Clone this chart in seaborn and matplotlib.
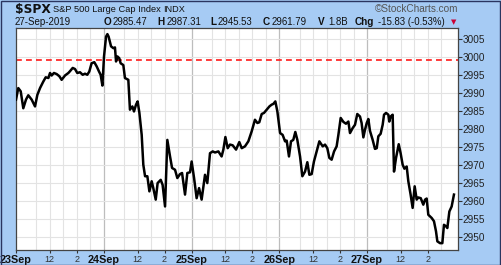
import matplotlib
matplotlib.use("Agg")
import matplotlib.pyplot as plt
import seaborn as sns
import pandas as pd
from matplotlib.patches import Rectangle

# ---- data: trading hours since 23-Sep 09:30 (6.5 h per session) and close ----
hours = [0.00, 0.17, 0.35, 0.54, 0.74, 0.91, 1.16, 1.41, 1.58, 1.78, 2.02, 2.20, 2.40, 2.52, 2.64,
         2.81, 3.01, 3.21, 3.38, 3.63, 3.88, 4.00, 4.20, 4.37, 4.54, 4.74, 4.94, 5.11, 5.28, 5.43,
         5.60, 5.80, 5.98, 6.15, 6.27, 6.40, 6.52, 6.67, 6.77, 6.86, 7.04, 7.21, 7.33, 7.41, 7.51,
         7.65, 7.75, 7.95, 8.07, 8.32, 8.44, 8.62, 8.74, 8.89, 9.01, 9.14, 9.31, 9.43, 9.56, 9.73,
         9.88, 10.05, 10.17, 10.35, 10.49, 10.72, 10.86, 11.04, 11.21, 11.41, 11.56, 11.78, 11.95,
         12.15, 12.30, 12.52, 12.69, 12.89, 13.01, 13.19, 13.38, 13.56, 13.75, 14.00, 14.17, 14.37,
         14.57, 14.74, 14.99, 15.23, 15.36, 15.51, 15.68, 15.85, 16.05, 16.30, 16.54, 16.72, 16.96,
         17.21, 17.46, 17.70, 17.88, 18.02, 18.20, 18.37, 18.57, 18.77, 18.94, 19.06, 19.21, 19.36,
         19.56, 19.75, 19.93, 20.05, 20.22, 20.37, 20.54, 20.69, 20.84, 21.04, 21.21, 21.41, 21.58,
         21.73, 21.90, 22.07, 22.27, 22.47, 22.72, 22.89, 23.06, 23.21, 23.38, 23.56, 23.75, 23.88,
         24.05, 24.25, 24.44, 24.62, 24.74, 24.94, 25.11, 25.28, 25.48, 25.60, 25.73, 25.85, 25.98,
         26.10, 26.22, 26.42, 26.59, 26.72, 26.84, 27.01, 27.16, 27.26, 27.41, 27.58, 27.65, 27.75,
         27.90, 28.00, 28.15, 28.35, 28.49, 28.64, 28.77, 28.94, 29.06, 29.23, 29.38, 29.53, 29.68,
         29.80, 29.98, 30.17, 30.30, 30.42, 30.54, 30.79, 30.96, 31.11, 31.21, 31.41, 31.58, 31.70,
         31.85, 31.95, 32.10, 32.27, 32.44]
close = [2988.1, 2991.3, 2990.4, 2985.7, 2988.1, 2989.3, 2988.1, 2986.2, 2989.4, 2991.3, 2993.1, 2994.3, 2994.1, 2995.5, 2994.8,
         2995.5, 2995.2, 2994.6, 2993.6, 2994.8, 2995.5, 2996.0, 2996.9, 2996.6, 2995.5, 2995.7, 2995.0, 2995.3, 2995.0, 2995.9,
         2998.2, 2998.5, 2997.3, 2995.9, 2995.0, 2992.0, 3000.1, 3005.6, 3006.3, 3005.6, 3002.9, 3002.4, 3002.6, 2998.7, 3000.1,
         2999.6, 2998.2, 2997.7, 2994.1, 2993.6, 2985.3, 2986.2, 2984.8, 2986.7, 2987.6, 2984.4, 2978.3, 2970.0, 2966.8, 2966.8,
         2962.6, 2965.4, 2963.5, 2960.3, 2964.9, 2965.8, 2964.4, 2958.4, 2976.9, 2972.3, 2969.1, 2968.6, 2966.3,
         2967.4, 2967.7, 2961.7, 2967.7, 2967.9, 2970.9, 2966.3, 2960.7, 2963.5, 2960.3, 2967.2, 2964.9, 2973.2,
         2973.7, 2973.4, 2973.7, 2972.3, 2974.2, 2977.7, 2974.6, 2975.6, 2975.4, 2974.2, 2976.3, 2974.6, 2975.1,
         2976.5, 2979.3, 2982.5, 2981.6, 2981.8, 2984.1, 2984.4, 2985.3, 2986.2, 2986.7, 2986.9, 2987.6, 2984.8,
         2978.8, 2978.3, 2976.5, 2976.7, 2972.3, 2976.5, 2976.9, 2979.1, 2976.9, 2972.3, 2966.8, 2968.1, 2970.7,
         2967.2, 2967.4, 2970.9, 2973.7, 2976.5, 2975.1, 2975.6, 2974.6, 2971.9, 2971.4, 2973.7, 2975.1, 2978.3,
         2983.0, 2981.9, 2981.4, 2982.0, 2978.8, 2980.2, 2981.1, 2984.1, 2983.4, 2981.6, 2977.6, 2979.7, 2981.6,
         2982.7, 2979.4, 2976.9, 2974.4, 2974.6, 2977.9, 2978.6, 2981.1, 2983.9, 2984.4, 2983.9, 2982.0, 2983.4,
         2983.9, 2968.1, 2971.9, 2975.7, 2973.2, 2970.0, 2968.9, 2969.5, 2965.4, 2961.7, 2958.0, 2964.0, 2960.3,
         2960.9, 2960.7, 2958.9, 2960.3, 2960.6, 2956.1, 2955.2, 2954.3, 2951.5, 2948.7, 2948.2, 2948.2, 2953.3,
         2952.9, 2952.4, 2957.0, 2958.4, 2961.7]

ref_level = 2999.0
day_labels = ["23Sep", "24Sep", "25Sep", "26Sep", "27Sep"]
intraday_labels = ["12", "2"]
session_len = 6.5
intraday_offsets = [2.5, 4.5]   # 12:00 and 14:00 after 09:30 open
y_ticks = list(range(2950, 3006, 5))

header_symbol = "$SPX"
header_name = "S&P 500 Large Cap Index"
header_exch = "INDX"
header_date = "27-Sep-2019"
header_brand = "\u00a9StockCharts.com"
ohlc_keys = ["O", "H", "L", "C", "V", "Chg"]
ohlc_vals = ["2985.47", "2987.31", "2945.53", "2961.79", "1.8B", "-15.83 (-0.53%)"]

# ---- figure ----
W, H = 501, 265
bg = "#a6cbf4"
fig = plt.figure(figsize=(W / 100, H / 100), dpi=100, facecolor=bg)
ax = fig.add_axes([16 / W, 1 - 250 / H, (458 - 16) / W, (250 - 28) / H])
ax.set_facecolor("white")

df = pd.DataFrame({"hours": hours, "close": close})

# grid
for d in range(5):
    base = d * session_len
    if d > 0:
        ax.axvline(base, color="#bdbdbd", lw=0.9, zorder=0)
    for hh in [1.5, 2.5, 3.5, 4.5, 5.5]:
        ax.axvline(base + hh, color="#e3e3e3", lw=0.8, zorder=0)
for yt in y_ticks:
    ax.axhline(yt, color="#e3e3e3", lw=0.8, zorder=0)

ax.axhline(ref_level, color="#ff1a1a", lw=1.2, ls=(0, (3.5, 2.5)), zorder=2)

sns.lineplot(data=df, x="hours", y="close", ax=ax, color="black", lw=1.8, zorder=3)

ax.set_xlim(0, 32.74)
ax.set_ylim(2946.3, 3008.0)
ax.set_xlabel("")
ax.set_ylabel("")

# y axis on right
ax.yaxis.tick_right()
ax.set_yticks(y_ticks)
ax.set_yticklabels([str(v) for v in y_ticks], fontsize=7.2, family="Liberation Sans", color="#222222")
ax.tick_params(axis="y", length=3, width=0.8, pad=0.5, color="#333333")

# x ticks
xt, xl = [], []
for d, lab in enumerate(day_labels):
    xt.append(d * session_len)
    xl.append(lab)
    for off, il in zip(intraday_offsets, intraday_labels):
        xt.append(d * session_len + off)
        xl.append(il)
ax.set_xticks(xt)
ax.set_xticklabels(xl, family="Liberation Sans")
for t, lab in zip(ax.get_xticklabels(), xl):
    if lab in day_labels:
        t.set_fontweight("bold")
        t.set_fontsize(7.8)
        t.set_color("#111111")
    else:
        t.set_fontsize(6.5)
        t.set_color("#333333")
ax.tick_params(axis="x", length=2.5, width=0.8, pad=1.0, color="#333333")

for s in ax.spines.values():
    s.set_color("#444444")
    s.set_linewidth(0.9)

# header texts
def fx(px):
    return px / W

def fy(py):
    return 1 - py / H

fig.text(fx(15), fy(12.5), header_symbol, fontsize=8.8, fontweight="bold", family="DejaVu Sans", color="#111111")
fig.text(fx(53), fy(12.5), header_name, fontsize=6.7, family="Liberation Sans", color="#111111")
fig.text(fx(163), fy(12.5), header_exch, fontsize=6.6, family="Liberation Sans", color="#111111")
fig.text(fx(458), fy(12.5), header_brand, fontsize=7.2, family="Liberation Sans", color="#555555", ha="right")
fig.text(fx(15), fy(25), header_date, fontsize=7.0, family="Liberation Sans", color="#111111")

key_x = [104, 157, 210, 263, 318, 355]
val_x = [113, 167, 218, 272, 328, 378]
for k, v, kx, vx in zip(ohlc_keys, ohlc_vals, key_x, val_x):
    fig.text(fx(kx), fy(25), k, fontsize=7.2, fontweight="bold", family="Liberation Sans", color="#111111")
    fig.text(fx(vx), fy(25), v, fontsize=6.9, family="Liberation Sans", color="#111111")
fig.text(fx(454), fy(24), "\u25bc", fontsize=5, color="#cc0033", ha="center", family="DejaVu Sans")

fig.add_artist(Rectangle((0.5 / W, 0.5 / H), (W - 1.5) / W, (H - 1.5) / H, transform=fig.transFigure,
                         fill=False, edgecolor="#2a3560", lw=1.0))

fig.savefig("out.png", dpi=100, facecolor=bg)
